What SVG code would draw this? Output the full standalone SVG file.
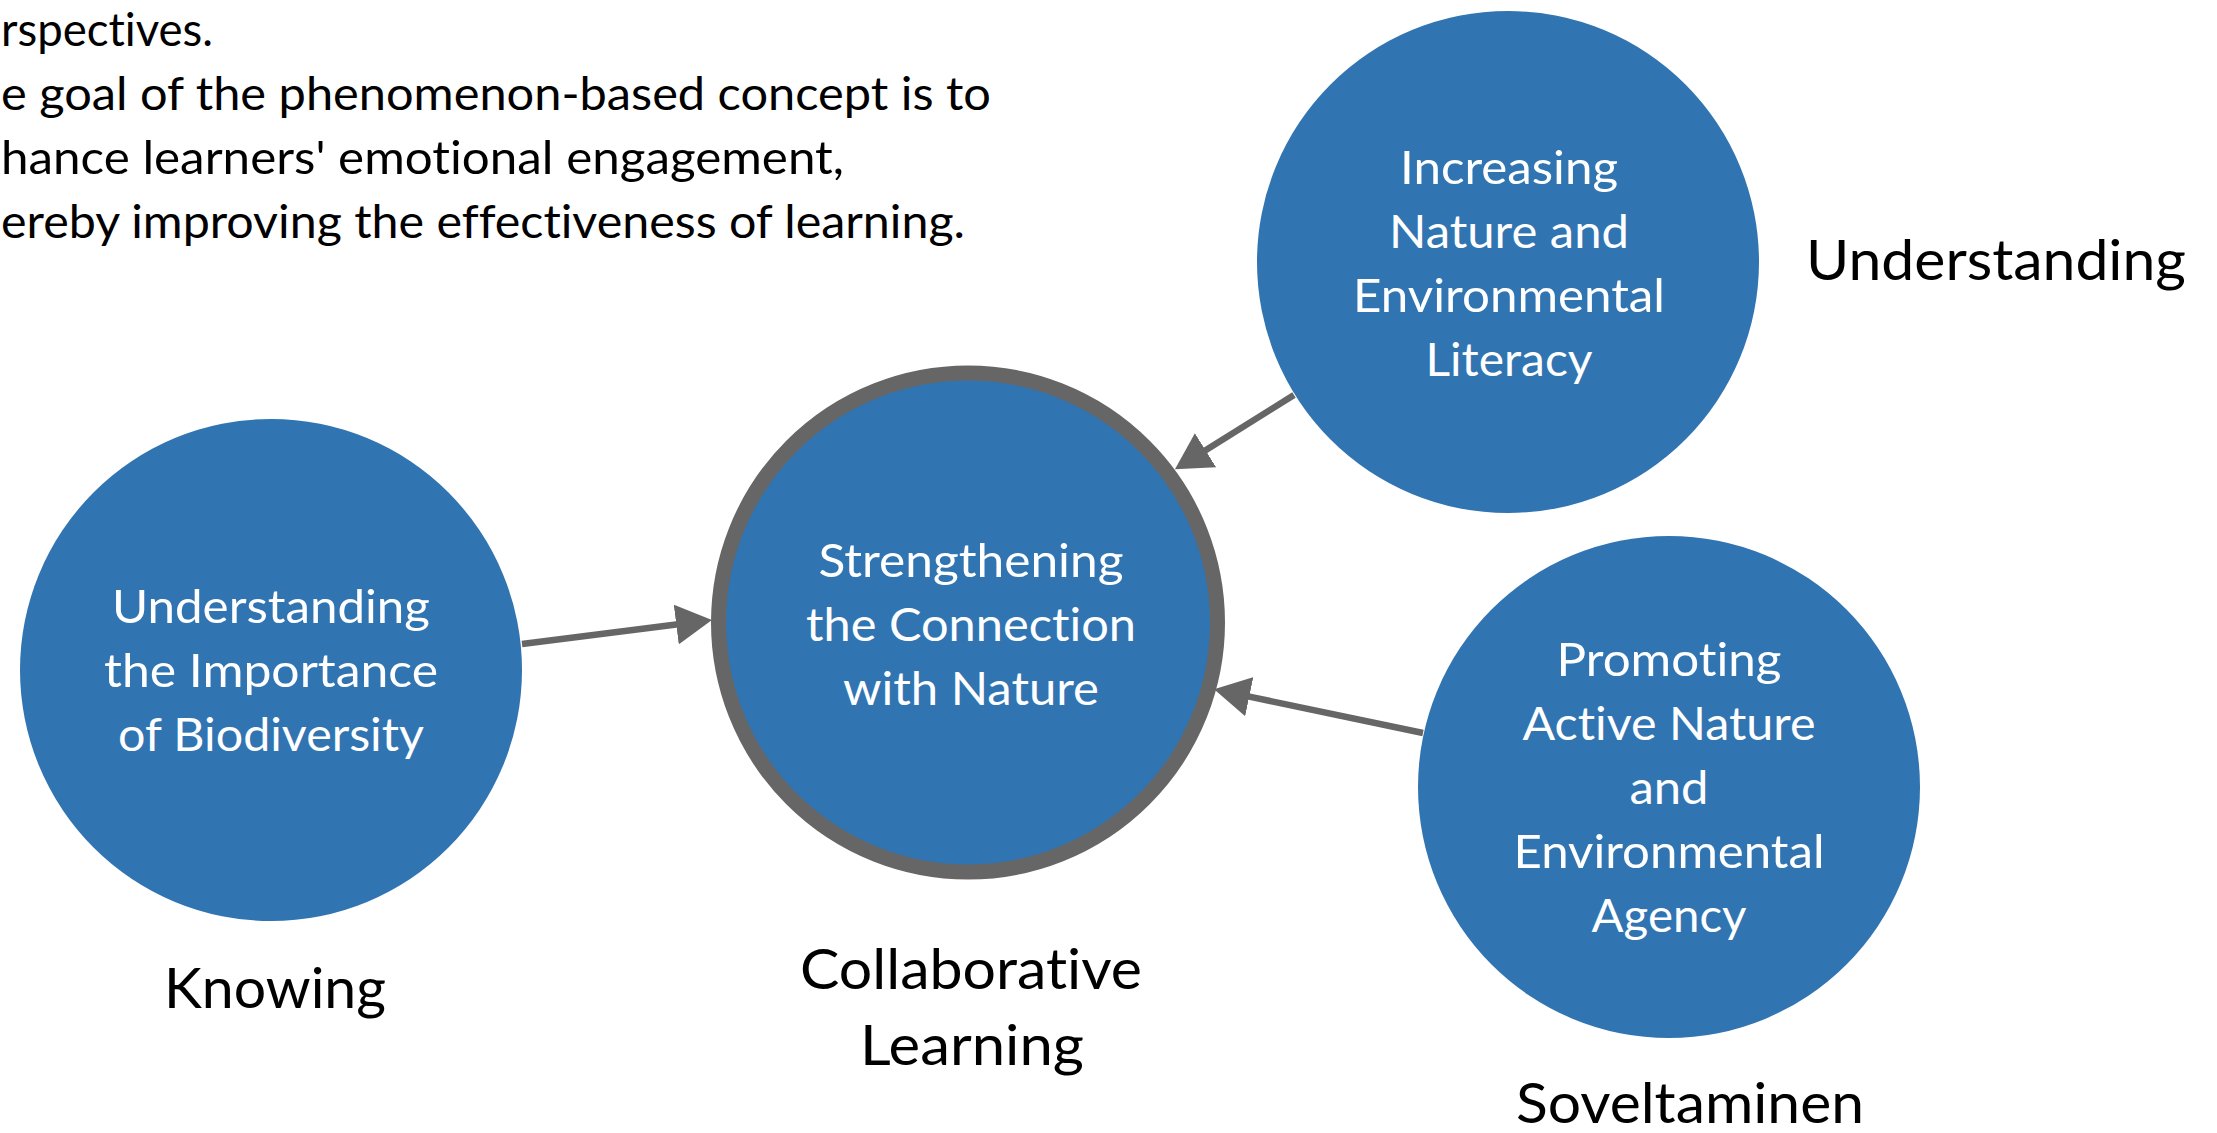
<svg xmlns="http://www.w3.org/2000/svg" width="2217" height="1133" viewBox="0 0 2217 1133">
<style>
  text { font-variant-ligatures: none; font-feature-settings: "liga" 0, "clig" 0; }
  .node { fill: #3174b2; }
  .hub { fill: #3174b2; stroke: #666666; stroke-width: 15; }
  .nt { font-family: Lato, "Open Sans", "Liberation Sans", sans-serif; font-size: 47px; fill: #ffffff; text-anchor: middle; }
  .lab { font-family: Lato, "Open Sans", "Liberation Sans", sans-serif; font-size: 57px; fill: #000000; text-anchor: middle; }
  .para { font-family: Lato, "Open Sans", "Liberation Sans", sans-serif; font-size: 47px; fill: #000000; }
  .conn { stroke: #666666; stroke-width: 6.5; fill: none; marker-end: url(#arrow); }
</style>
<defs>
  <marker id="arrow" viewBox="0 0 36 40" refX="6" refY="20" markerWidth="36" markerHeight="40" markerUnits="userSpaceOnUse" orient="auto">
    <path d="M0,0 L36,20 L0,40 z" fill="#666666"/>
  </marker>
</defs>
<rect width="2217" height="1133" fill="#ffffff"/>

<g id="paragraph">
  <text class="para" x="1" y="46" textLength="212" lengthAdjust="spacingAndGlyphs">rspectives.</text>
  <text class="para" x="1" y="110" textLength="990" lengthAdjust="spacingAndGlyphs">e goal of the phenomenon-based concept is to</text>
  <text class="para" x="1" y="174" textLength="843" lengthAdjust="spacingAndGlyphs">hance learners' emotional engagement,</text>
  <text class="para" x="1" y="238" textLength="964" lengthAdjust="spacingAndGlyphs">ereby improving the effectiveness of learning.</text>
</g>

<g id="connectors">
  <path class="conn" d="M522,644 L682.2,623.8"/>
  <path class="conn" d="M1294,395 L1200.4,453.4"/>
  <path class="conn" d="M1423,733 L1243.4,695.4"/>
</g>

<g id="node-literacy">
  <circle class="node" cx="1508" cy="262" r="251"/>
  <text class="nt" x="1509" y="184" textLength="218" lengthAdjust="spacingAndGlyphs">Increasing</text>
  <text class="nt" x="1509" y="248" textLength="240" lengthAdjust="spacingAndGlyphs">Nature and</text>
  <text class="nt" x="1509" y="312" textLength="312" lengthAdjust="spacingAndGlyphs">Environmental</text>
  <text class="nt" x="1509" y="376" textLength="167" lengthAdjust="spacingAndGlyphs">Literacy</text>
</g>

<g id="node-biodiversity">
  <circle class="node" cx="271" cy="670" r="251"/>
  <text class="nt" x="271" y="623" textLength="318" lengthAdjust="spacingAndGlyphs">Understanding</text>
  <text class="nt" x="271" y="687" textLength="334" lengthAdjust="spacingAndGlyphs">the Importance</text>
  <text class="nt" x="271" y="751" textLength="306" lengthAdjust="spacingAndGlyphs">of Biodiversity</text>
</g>

<g id="node-connection">
  <circle class="hub" cx="968" cy="622.5" r="249.5"/>
  <text class="nt" x="971" y="577" textLength="305" lengthAdjust="spacingAndGlyphs">Strengthening</text>
  <text class="nt" x="971" y="641" textLength="330" lengthAdjust="spacingAndGlyphs">the Connection</text>
  <text class="nt" x="971" y="705" textLength="256" lengthAdjust="spacingAndGlyphs">with Nature</text>
</g>

<g id="node-agency">
  <circle class="node" cx="1669" cy="787" r="251"/>
  <text class="nt" x="1669" y="676" textLength="225" lengthAdjust="spacingAndGlyphs">Promoting</text>
  <text class="nt" x="1669" y="740" textLength="293" lengthAdjust="spacingAndGlyphs">Active Nature</text>
  <text class="nt" x="1669" y="804" textLength="79" lengthAdjust="spacingAndGlyphs">and</text>
  <text class="nt" x="1669" y="868" textLength="311" lengthAdjust="spacingAndGlyphs">Environmental</text>
  <text class="nt" x="1669" y="932" textLength="155" lengthAdjust="spacingAndGlyphs">Agency</text>
</g>

<g id="labels">
  <text class="lab" x="1996" y="280" textLength="380" lengthAdjust="spacingAndGlyphs">Understanding</text>
  <text class="lab" x="275" y="1008" textLength="222" lengthAdjust="spacingAndGlyphs">Knowing</text>
  <text class="lab" x="971" y="989" textLength="342" lengthAdjust="spacingAndGlyphs">Collaborative</text>
  <text class="lab" x="972" y="1065" textLength="224" lengthAdjust="spacingAndGlyphs">Learning</text>
  <text class="lab" x="1690" y="1123" textLength="348" lengthAdjust="spacingAndGlyphs">Soveltaminen</text>
</g>
</svg>
